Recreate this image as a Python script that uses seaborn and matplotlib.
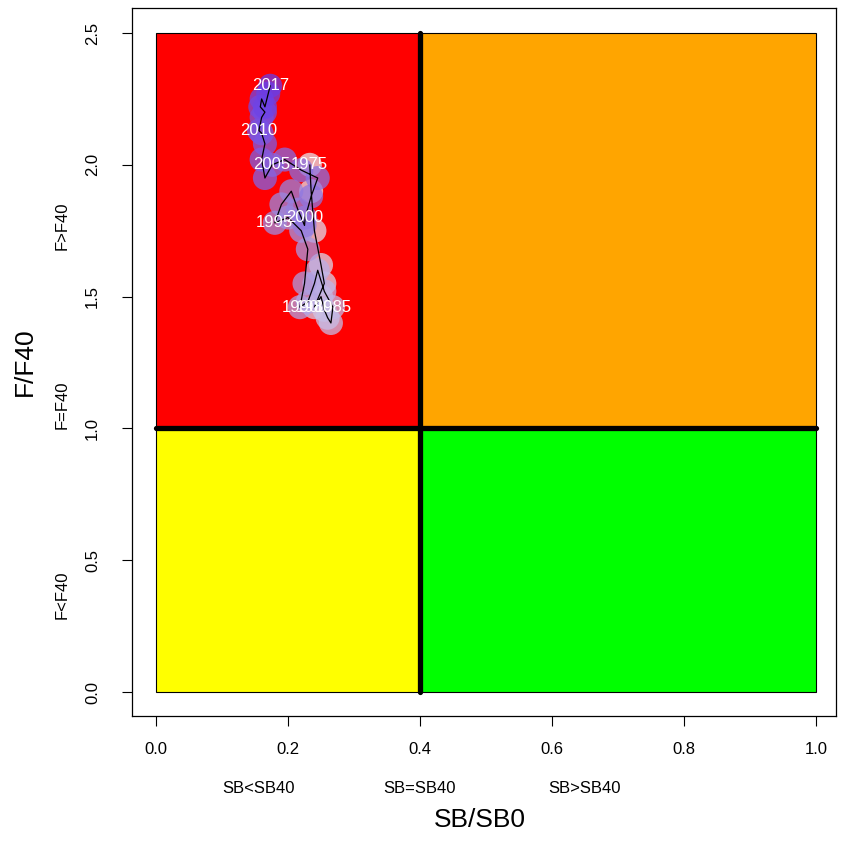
import numpy as np
import pandas as pd
import seaborn as sns
import matplotlib.pyplot as plt
from matplotlib.patches import Rectangle

# 数据：年份、SB/SB0、F/F40
years = list(range(1975, 2018))
sb_ratio = [0.233, 0.235, 0.240, 0.250, 0.255, 0.240, 0.250, 0.255, 0.260, 0.265,
            0.268, 0.255, 0.245, 0.240, 0.230, 0.218, 0.225, 0.230, 0.220, 0.200,
            0.180, 0.190, 0.205, 0.215, 0.225, 0.226, 0.235, 0.245, 0.220, 0.195,
            0.176, 0.165, 0.160, 0.165, 0.160, 0.156, 0.160, 0.165, 0.158, 0.160,
            0.165, 0.170, 0.173]
f_ratio = [2.00, 1.90, 1.75, 1.62, 1.55, 1.46, 1.50, 1.45, 1.42, 1.40,
           1.46, 1.52, 1.60, 1.55, 1.48, 1.46, 1.55, 1.68, 1.75, 1.80,
           1.78, 1.85, 1.90, 1.83, 1.77, 1.80, 1.88, 1.95, 1.98, 2.02,
           2.00, 1.95, 2.02, 2.08, 2.12, 2.13, 2.18, 2.20, 2.22, 2.25,
           2.22, 2.27, 2.30]
label_years = [1975, 1980, 1985, 1990, 1995, 2000, 2005, 2010, 2017]

x_ticks = [0.0, 0.2, 0.4, 0.6, 0.8, 1.0]
y_ticks = [0.0, 0.5, 1.0, 1.5, 2.0, 2.5]

df = pd.DataFrame({'year': years, 'sb': sb_ratio, 'f': f_ratio})

sns.set_style('white')
plt.rcParams['font.family'] = ['Liberation Sans', 'DejaVu Sans']
plt.rcParams['text.color'] = 'black'
plt.rcParams['axes.labelcolor'] = 'black'
plt.rcParams['xtick.color'] = 'black'
plt.rcParams['ytick.color'] = 'black'

fig = plt.figure(figsize=(8.41, 8.43), dpi=100)
ax = fig.add_axes([132 / 841, 1 - 716 / 843, 704 / 841, 708 / 843])

# 四个象限
zones = [((0, 1), 0.4, 1.5, '#ff0000'),
         ((0.4, 1), 0.6, 1.5, '#ffa500'),
         ((0, 0), 0.4, 1.0, '#ffff00'),
         ((0.4, 0), 0.6, 1.0, '#00ff00')]
for xy, w, h, c in zones:
    ax.add_patch(Rectangle(xy, w, h, facecolor=c, edgecolor='black', lw=0.8, zorder=1))

ax.plot([0.4, 0.4], [0, 2.5], color='black', lw=3.8, zorder=2)
ax.plot([0, 1], [1, 1], color='black', lw=3.8, zorder=2)

pal = sns.blend_palette(['#e6e3ea', '#9b88e0', '#6a3ce6'], len(years))
sns.scatterplot(data=df, x='sb', y='f', hue='year', palette=pal, s=300,
                alpha=0.75, edgecolor='none', legend=False, ax=ax, zorder=3)
sns.lineplot(data=df, x='sb', y='f', sort=False, estimator=None, color='black',
             lw=0.9, ax=ax, zorder=4)

for yr, xx, yy in zip(years, sb_ratio, f_ratio):
    if yr in label_years:
        ax.text(xx, yy, str(yr), color='white', fontsize=12, ha='center', va='center', zorder=5)

ax.set_xlim(-0.0364, 1.0303)
ax.set_ylim(-0.091, 2.595)
ax.set_xticks(x_ticks)
ax.set_yticks(y_ticks)
ax.set_xticklabels([f'{v:.1f}' for v in x_ticks])
ax.set_yticklabels([f'{v:.1f}' for v in y_ticks], rotation=90, va='center')
ax.tick_params(axis='both', direction='out', length=7, width=0.8, labelsize=12,
               bottom=True, left=True, color='black')
ax.tick_params(axis='x', pad=12)
ax.tick_params(axis='y', pad=16)
for s in ax.spines.values():
    s.set_color('black')
    s.set_linewidth(0.9)

ax.set_xlabel('SB/SB0', fontsize=19)
ax.set_ylabel('F/F40', fontsize=19)
ax.xaxis.set_label_coords(0.494, (716 - 820) / 708)
ax.yaxis.set_label_coords((25 - 132) / 704, 0.5)
ax.xaxis.label.set_va('center')
ax.yaxis.label.set_va('center')

# 区域说明
trans_x = ax.get_xaxis_transform()
trans_y = ax.get_yaxis_transform()
for xx, t in zip([0.155, 0.4, 0.65], ['SB<SB40', 'SB=SB40', 'SB>SB40']):
    ax.text(xx, -0.102, t, transform=trans_x, fontsize=12, ha='center', va='center')
for yy, t in zip([1.77, 1.09, 0.37], ['F>F40', 'F=F40', 'F<F40']):
    ax.text(-0.099, yy, t, transform=trans_y, fontsize=12, ha='center', va='center', rotation=90)

plt.savefig('out.png', dpi=100)
